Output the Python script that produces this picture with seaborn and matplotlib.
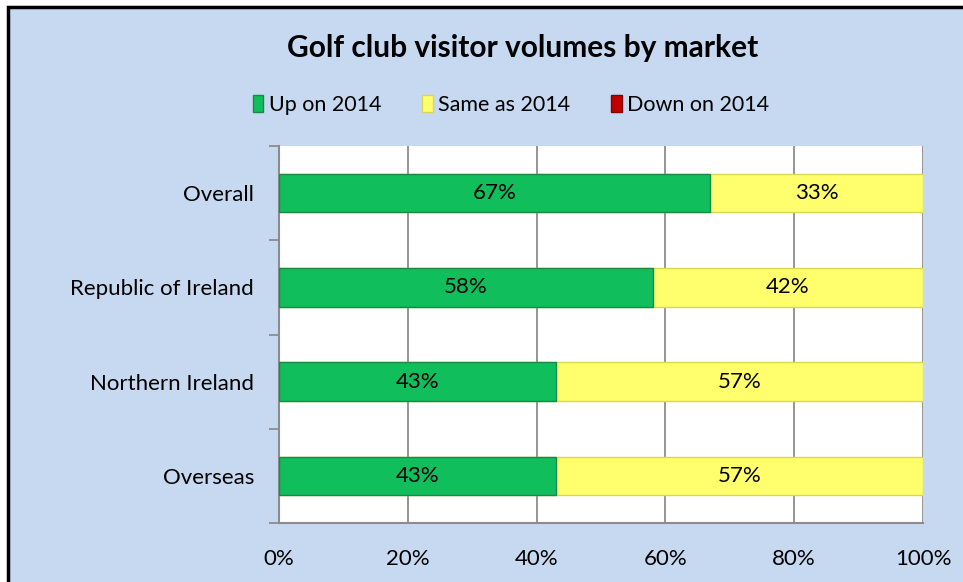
import matplotlib
matplotlib.use("Agg")
import matplotlib.pyplot as plt
import seaborn as sns
import pandas as pd
from matplotlib.patches import Rectangle, Patch
from matplotlib.ticker import FuncFormatter

categories = ["Overall", "Republic of Ireland", "Northern Ireland", "Overseas"]
up_on_2014 = [67, 58, 43, 43]
same_as_2014 = [33, 42, 57, 57]
down_on_2014 = [0, 0, 0, 0]
series_names = ["Up on 2014", "Same as 2014", "Down on 2014"]
x_ticks = [0, 20, 40, 60, 80, 100]

sns.set_theme(style="white")
plt.rcParams['font.family'] = ['Lato', 'DejaVu Sans']
plt.rcParams['text.color'] = 'black'
plt.rcParams['xtick.color'] = 'black'
plt.rcParams['ytick.color'] = 'black'

W, H = 963, 582
fig = plt.figure(figsize=(W / 100, H / 100), dpi=100)
fig.patch.set_facecolor("white")
# blue chart area with black border (right/bottom cut off)
fig.patches.append(Rectangle((8 / W, -0.1), 1.2, 1.1 - 7 / H, transform=fig.transFigure,
                             facecolor="#C6D9F1", edgecolor="black", linewidth=2.5, zorder=-10))

left, right, top, bottom = 279, 923, 146, 523
ax = fig.add_axes([left / W, 1 - bottom / H, (right - left) / W, (bottom - top) / H])
ax.set_zorder(5)
ax.set_facecolor("white")

df = pd.DataFrame({"cat": categories, "up": up_on_2014, "same": same_as_2014,
                   "down": down_on_2014})
df["up_same"] = df["up"] + df["same"]
df["total"] = df["up_same"] + df["down"]

green, yellow, red = "#11BE5C", "#FFFF6E", "#C00000"
sns.barplot(data=df, y="cat", x="total", color=red, orient="h", width=0.41,
            ax=ax, saturation=1, edgecolor="none", zorder=3)
sns.barplot(data=df, y="cat", x="up_same", color=yellow, orient="h", width=0.41,
            ax=ax, saturation=1, edgecolor="#D8D850", linewidth=1, zorder=3)
sns.barplot(data=df, y="cat", x="up", color=green, orient="h", width=0.41,
            ax=ax, saturation=1, edgecolor="#178A48", linewidth=1, zorder=4)

FS = 16
# labels
for i, (u, s) in enumerate(zip(up_on_2014, same_as_2014)):
    ax.text(u / 2, i, f"{u}%", ha="center", va="center", fontsize=FS, color="black", zorder=6)
    ax.text(u + s / 2, i, f"{s}%", ha="center", va="center", fontsize=FS, color="black", zorder=6)

ax.set_xlim(0, 100)
ax.set_ylim(len(categories) - 0.5, -0.5)
ax.set_xticks(x_ticks)
ax.xaxis.set_major_formatter(FuncFormatter(lambda v, p: f"{int(v)}%"))
ax.set_xlabel("")
ax.set_ylabel("")
ax.grid(axis="x", color="#8C8C8C", linewidth=1.3, zorder=0)
ax.set_axisbelow(True)
for s in ["top", "right"]:
    ax.spines[s].set_visible(False)
for s in ["left", "bottom"]:
    ax.spines[s].set_color("#8C8C8C")
    ax.spines[s].set_linewidth(1.5)

ax.set_yticks(range(len(categories)))
ax.set_yticklabels(categories, fontsize=FS)
ax.tick_params(axis="y", length=0, pad=18)
ax.tick_params(axis="x", length=5, color="#8C8C8C", width=1.3, labelsize=FS, pad=14)
# minor ticks on y at band boundaries
ax.set_yticks([i - 0.5 for i in range(len(categories) + 1)], minor=True)
ax.tick_params(axis="y", which="minor", length=7, color="#8C8C8C", width=1.3, left=True)

fig.text(523 / W, 1 - 48 / H, "Golf club visitor volumes by market", ha="center",
         va="center", fontsize=21.5, fontweight="bold", color="black")

handles = [Patch(facecolor=green, edgecolor="#178A48"),
           Patch(facecolor=yellow, edgecolor="#D8D850"),
           Patch(facecolor=red, edgecolor="#800000")]
fig.legend(handles, series_names, loc="center", bbox_to_anchor=(511 / W, 1 - 105 / H),
           ncol=3, frameon=False, fontsize=15.5, handlelength=0.5, handleheight=0.8,
           handletextpad=0.25, columnspacing=1.9)

fig.savefig("out.png", dpi=100)
